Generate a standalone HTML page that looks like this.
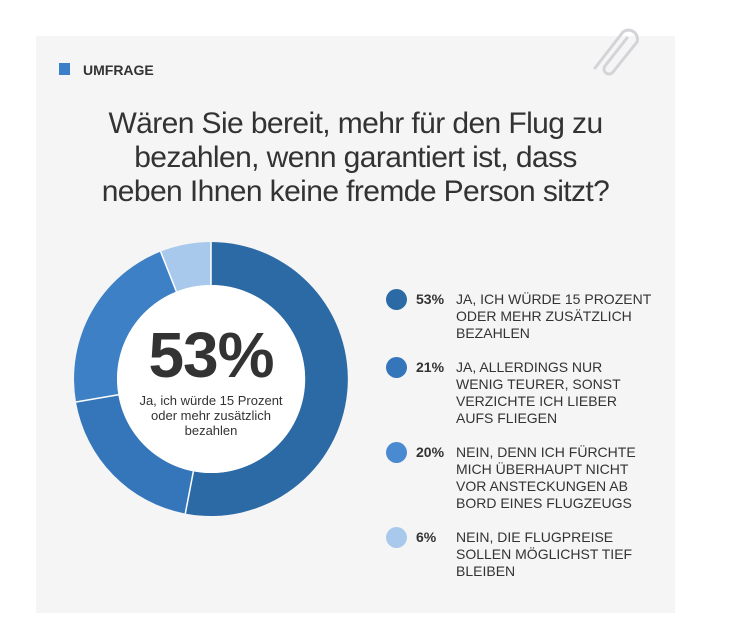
<!DOCTYPE html>
<html><head><meta charset="utf-8"><style>
body{margin:0;width:730px;height:630px;background:#fff;position:relative;font-family:"Liberation Sans",sans-serif;overflow:hidden}
.card{position:absolute;left:36px;top:36px;width:639px;height:577px;background:#f5f5f5}
.tag{position:absolute;left:59px;top:62px;font-weight:bold;font-size:14px;color:#333}
.tag:before{content:"";position:absolute;left:0;top:1px;width:11px;height:12px;background:#3b7fc8}
.title{position:absolute;left:36px;width:639px;top:107px;text-align:center;font-size:30px;line-height:34px;color:#333;letter-spacing:-0.6px}
.row{position:absolute;left:386px;font-size:14px;line-height:17px;color:#333}
.row .d{position:absolute;left:0;top:-2px;width:21px;height:21px;border-radius:50%}
.row .p{position:absolute;left:30px;top:0;font-weight:bold}
.row .t{position:absolute;left:70px;top:0;width:200px}
.big{position:absolute;left:111px;width:200px;text-align:center;top:318px;font-size:64px;font-weight:bold;color:#333;letter-spacing:-1px}
.sub{position:absolute;left:111px;width:200px;text-align:center;top:393px;font-size:13px;line-height:15px;color:#333}
</style></head><body>
<div class="card"></div>
<svg style="position:absolute;left:585px;top:20px" width="70" height="60" viewBox="0 0 70 60"><path d="M10 48 L38 12 A9 9 0 0 1 52 22 L28 52 A5 5 0 0 1 20 46 L42 18" fill="none" stroke="#d4d4d8" stroke-width="3" stroke-linecap="round"/></svg>
<div class="tag"><span style="margin-left:24px">UMFRAGE</span></div>
<div class="title">Wären Sie bereit, mehr für den Flug zu<br>bezahlen, wenn garantiert ist, dass<br>neben Ihnen keine fremde Person sitzt?</div>
<svg style="position:absolute;left:0;top:0" width="730" height="630">
<g transform="translate(211,379)">
<path d="M0,-137 A137 137 0 1 1 -25.7,134.6 L-17.6,92.3 A94 94 0 1 0 0,-94Z" fill="#2c6aa6"/>
<path d="M-25.7,134.6 A137 137 0 0 1 -135.0,23.0 L-92.6,15.8 A94 94 0 0 0 -17.6,92.3Z" fill="#3576ba"/>
<path d="M-135.0,23.0 A137 137 0 0 1 -50.4,-127.4 L-34.6,-87.4 A94 94 0 0 0 -92.6,15.8Z" fill="#3d80c6"/>
<path d="M-50.4,-127.4 A137 137 0 0 1 0,-137 L0,-94 A94 94 0 0 0 -34.6,-87.4Z" fill="#a9c9ec"/>
<g stroke="#fff" stroke-width="1.5"><line x1="0" y1="-94" x2="0" y2="-137"/><line x1="-17.6" y1="92.3" x2="-25.7" y2="134.6"/><line x1="-92.6" y1="15.8" x2="-135" y2="23"/><line x1="-34.6" y1="-87.4" x2="-50.4" y2="-127.4"/></g>
<circle r="94" fill="#fff"/>
</g></svg>
<div class="big">53%</div>
<div class="sub">Ja, ich würde 15 Prozent<br>oder mehr zusätzlich<br>bezahlen</div>
<div class="row" style="top:291px"><div class="d" style="background:#2c6aa6"></div><div class="p">53%</div><div class="t">JA, ICH WÜRDE 15 PROZENT<br>ODER MEHR ZUSÄTZLICH<br>BEZAHLEN</div></div>
<div class="row" style="top:359px"><div class="d" style="background:#3576ba"></div><div class="p">21%</div><div class="t">JA, ALLERDINGS NUR<br>WENIG TEURER, SONST<br>VERZICHTE ICH LIEBER<br>AUFS FLIEGEN</div></div>
<div class="row" style="top:444px"><div class="d" style="background:#4a8ad0"></div><div class="p">20%</div><div class="t">NEIN, DENN ICH FÜRCHTE<br>MICH ÜBERHAUPT NICHT<br>VOR ANSTECKUNGEN AB<br>BORD EINES FLUGZEUGS</div></div>
<div class="row" style="top:529px"><div class="d" style="background:#a9c9ec"></div><div class="p">6%</div><div class="t">NEIN, DIE FLUGPREISE<br>SOLLEN MÖGLICHST TIEF<br>BLEIBEN</div></div>
</body></html>
